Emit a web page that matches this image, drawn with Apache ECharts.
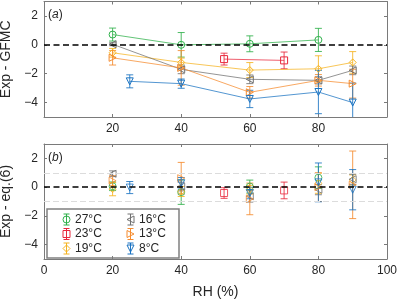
<!DOCTYPE html>
<html><head><meta charset="utf-8">
<script src="https://cdn.jsdelivr.net/npm/echarts@6/dist/echarts.min.js"></script>
<style>html,body{margin:0;padding:0;background:#fff}#c{width:397px;height:300px}</style>
</head><body><div id="c"></div>
<script>
// ---- data ----
const tempLabels = ['27°C', '23°C', '19°C', '16°C', '13°C', '8°C'];
const xTicksTop = [20, 40, 60, 80];
const xTicksBottom = [0, 20, 40, 60, 80, 100];
const yTicks = [-4, -2, 0, 2];

const rh27 = [20, 40, 60, 80];
const gfmc27 = [0.71, 0.0, 0.07, 0.34];
const gfmcErr27 = [0.45, 0.85, 0.55, 0.8];
const eq27 = [0.06, -0.35, 0.04, 0.66];
const eqErr27 = [0.3, 0.85, 0.45, 0.75];

const rh23 = [52.5, 70];
const gfmc23 = [-0.99, -1.08];
const gfmcErr23 = [0.41, 0.58];
const eq23 = [-0.41, -0.23];
const eqErr23 = [0.37, 0.58];

const rh19 = [20, 40, 60, 80, 90];
const gfmc19 = [-0.55, -1.22, -1.75, -1.66, -1.22];
const gfmcErr19 = [0.3, 0.3, 0.52, 0.9, 0.75];
const eq19 = [-0.14, -0.3, -0.18, 0.27, 0.5];
const eqErr19 = [0.46, 0.35, 0.3, 0.7, 0.35];

const rh16 = [20, 40, 60, 80, 90];
const gfmc16 = [0.04, -1.7, -2.39, -2.46, -1.77];
const gfmcErr16 = [0.1, 0.3, 0.3, 0.25, 0.3];
const eq16 = [0.93, 0.04, -0.64, -0.18, 0.55];
const eqErr16 = [0.2, 0.3, 0.4, 0.35, 0.35];

const rh13 = [20, 40, 60, 80, 90];
const gfmc13 = [-0.9, -1.6, -3.29, -2.46, -2.69];
const gfmcErr13 = [0.5, 1.2, 0.4, 0.4, 1.0];
const eq13 = [0.45, 0.62, -0.82, 0.0, 0.16];
const eqErr13 = [0.35, 1.1, 1.1, 1.0, 2.35];

const rh8 = [25, 40, 60, 80, 90];
const gfmc8 = [-2.53, -2.69, -3.75, -3.27, -4.0];
const gfmcErr8 = [0.45, 0.32, 0.6, 1.5, 1.35];
const eq8 = [-0.03, 0.27, -0.41, 0.33, -0.18];
const eqErr8 = [0.42, 0.4, 0.4, 1.35, 1.4];

// ---- styles ----
const colors = ['#2fb04a', '#e8283c', '#f5b320', '#707070', '#f58b2e', '#1a73c2'];
const symbols = ['circle', 'rect', 'diamond',
  'path://M10,0L0,5L10,10Z', 'path://M0,0L10,5L0,10Z', 'path://M0,0L10,0L5,10Z'];
const kinds = ['circle', 'rect', 'diamond', 'left', 'right', 'down'];
const FONT = "'Liberation Sans', Arial, Helvetica, sans-serif";
const axisColor = '#7a7a7a';
const textColor = '#262626';

const groups = [
  [rh27, gfmc27, gfmcErr27, eq27, eqErr27],
  [rh23, gfmc23, gfmcErr23, eq23, eqErr23],
  [rh19, gfmc19, gfmcErr19, eq19, eqErr19],
  [rh16, gfmc16, gfmcErr16, eq16, eqErr16],
  [rh13, gfmc13, gfmcErr13, eq13, eqErr13],
  [rh8, gfmc8, gfmcErr8, eq8, eqErr8]
];

const fmt = v => (v < 0 ? '\u2212' + (-v) : String(v));

function xAx(grid, pos, ticks, showLabels, name) {
  return {
    type: 'value', gridIndex: grid, position: pos, min: 0, max: 100,
    name: name || '', nameLocation: 'middle', nameGap: 26,
    nameTextStyle: { fontFamily: FONT, fontSize: 14, color: textColor },
    axisLine: { show: true, onZero: false, lineStyle: { color: axisColor, width: 1 } },
    axisTick: { show: true, inside: true, length: 3, customValues: ticks, lineStyle: { color: axisColor } },
    axisLabel: { show: showLabels, customValues: ticks, margin: 6, fontFamily: FONT, fontSize: 12, color: textColor },
    splitLine: { show: false }
  };
}
function yAx(grid, pos, showLabels, name) {
  return {
    type: 'value', gridIndex: grid, position: pos, min: -5, max: 3,
    name: name || '', nameLocation: 'middle', nameGap: 22, nameRotate: 90,
    nameTextStyle: { fontFamily: FONT, fontSize: 14, color: textColor },
    axisLine: { show: true, onZero: false, lineStyle: { color: axisColor, width: 1 } },
    axisTick: { show: true, inside: true, length: 3, customValues: yTicks, lineStyle: { color: axisColor } },
    axisLabel: { show: showLabels, customValues: yTicks, margin: 6, formatter: fmt, fontFamily: FONT, fontSize: 12, color: textColor },
    splitLine: { show: false }
  };
}

function errSeries(name, xs, ys, es, color, axIdx) {
  return {
    type: 'custom', name: name, xAxisIndex: axIdx, yAxisIndex: axIdx, clip: true, silent: true, z: 3,
    data: xs.map((x, i) => [x, ys[i], es[i]]),
    encode: { x: 0, y: 1 },
    renderItem: function (params, api) {
      const x = api.value(0), y = api.value(1), e = api.value(2);
      const t = api.coord([x, y + e]);
      const b = api.coord([x, y - e]);
      const w = 3.5;
      const st = { stroke: color, lineWidth: 1, opacity: 0.85 };
      return {
        type: 'group', children: [
          { type: 'line', shape: { x1: t[0], y1: t[1], x2: b[0], y2: b[1] }, style: st },
          { type: 'line', shape: { x1: t[0] - w, y1: t[1], x2: t[0] + w, y2: t[1] }, style: st },
          { type: 'line', shape: { x1: b[0] - w, y1: b[1], x2: b[0] + w, y2: b[1] }, style: st }
        ]
      };
    }
  };
}

const series = [];
groups.forEach((g, k) => {
  const [rh, gf, gfe, eq, eqe] = g;
  const c = colors[k];
  const top = {
    type: 'line', name: tempLabels[k], xAxisIndex: 0, yAxisIndex: 0, z: 4,
    data: rh.map((x, i) => [x, gf[i]]),
    symbol: symbols[k], symbolSize: 7,
    itemStyle: { color: 'none', borderColor: c, borderWidth: 1 },
    lineStyle: { color: c, width: 1, opacity: 0.75 },
    silent: true, animation: false
  };
  const bot = {
    type: 'scatter', name: tempLabels[k], xAxisIndex: 2, yAxisIndex: 2, z: 4,
    data: rh.map((x, i) => [x, eq[i]]),
    symbol: symbols[k], symbolSize: 7,
    itemStyle: { color: 'none', borderColor: c, borderWidth: 1 },
    silent: true, animation: false
  };
  if (k === 0) {
    top.markLine = {
      silent: true, symbol: ['none', 'none'], label: { show: false }, animation: false,
      lineStyle: { color: '#000', type: [6, 3.5], width: 1.6 },
      data: [{ yAxis: 0 }]
    };
    bot.markLine = {
      silent: true, symbol: ['none', 'none'], label: { show: false }, animation: false,
      data: [
        { yAxis: 1, lineStyle: { color: '#dcdcdc', type: [6, 3], width: 1 } },
        { yAxis: -1, lineStyle: { color: '#dcdcdc', type: [6, 3], width: 1 } },
        { yAxis: 0, lineStyle: { color: '#000', type: [6, 3.5], width: 1.6 } }
      ]
    };
  }
  series.push(top, bot);
  series.push(errSeries(tempLabels[k], rh, gf, gfe, c, 0));
  series.push(errSeries(tempLabels[k], rh, eq, eqe, c, 2));
});

// ---- legend drawn as graphic ----
function markerEl(kind, cx, cy, c) {
  const s = 3.5;
  const st = { fill: 'none', stroke: c, lineWidth: 1 };
  if (kind === 'circle') return { type: 'circle', shape: { cx: cx, cy: cy, r: s }, style: st };
  if (kind === 'rect') return { type: 'rect', shape: { x: cx - s, y: cy - s, width: 2 * s, height: 2 * s }, style: st };
  let pts;
  if (kind === 'diamond') pts = [[cx, cy - s], [cx + s, cy], [cx, cy + s], [cx - s, cy]];
  if (kind === 'left') pts = [[cx + s, cy - s], [cx - s, cy], [cx + s, cy + s]];
  if (kind === 'right') pts = [[cx - s, cy - s], [cx + s, cy], [cx - s, cy + s]];
  if (kind === 'down') pts = [[cx - s, cy - s], [cx + s, cy - s], [cx, cy + s]];
  return { type: 'polygon', shape: { points: pts }, style: st };
}
const legendChildren = [{
  type: 'rect', shape: { x: 47, y: 209, width: 132, height: 49 },
  style: { fill: '#fff', stroke: '#808080', lineWidth: 1.5 }
}];
tempLabels.forEach((lab, i) => {
  const col = Math.floor(i / 3), row = i % 3;
  const cx = 66.5 + col * 64, cy = 219.5 + row * 14.5;
  const c = colors[i];
  const est = { stroke: c, lineWidth: 1 };
  legendChildren.push(
    { type: 'line', shape: { x1: cx, y1: cy - 5.5, x2: cx, y2: cy + 5.5 }, style: est },
    { type: 'line', shape: { x1: cx - 3, y1: cy - 5.5, x2: cx + 3, y2: cy - 5.5 }, style: est },
    { type: 'line', shape: { x1: cx - 3, y1: cy + 5.5, x2: cx + 3, y2: cy + 5.5 }, style: est },
    markerEl(kinds[i], cx, cy, c),
    { type: 'text', x: cx + 8.5, y: cy, style: { text: lab, fontFamily: FONT, fontSize: 12, fill: textColor, textVerticalAlign: 'middle', verticalAlign: 'middle' } }
  );
});

const option = {
  animation: false,
  textStyle: { fontFamily: FONT },
  grid: [
    { left: 44, right: 10, top: 1.5, height: 115.5, containLabel: false, outerBoundsMode: 'none' },
    { left: 44, right: 10, top: 144, height: 115, containLabel: false, outerBoundsMode: 'none' }
  ],
  xAxis: [
    xAx(0, 'bottom', xTicksTop, true),
    xAx(0, 'top', xTicksTop, false),
    xAx(1, 'bottom', xTicksBottom, true, 'RH (%)'),
    xAx(1, 'top', xTicksBottom, false)
  ],
  yAxis: [
    yAx(0, 'left', true, 'Exp - GFMC'),
    yAx(0, 'right', false),
    yAx(1, 'left', true, 'Exp - eq.(6)'),
    yAx(1, 'right', false)
  ],
  series: series,
  graphic: [
    { type: 'group', z: 100, children: legendChildren },
    { type: 'text', z: 100, x: 48, y: 15, style: { text: '({i|a})', rich: { i: { fontStyle: 'italic', fontSize: 12, fontFamily: FONT, fill: textColor } }, fontFamily: FONT, fontSize: 12, fill: textColor, verticalAlign: 'middle' } },
    { type: 'text', z: 100, x: 48, y: 158, style: { text: '({i|b})', rich: { i: { fontStyle: 'italic', fontSize: 12, fontFamily: FONT, fill: textColor } }, fontFamily: FONT, fontSize: 12, fill: textColor, verticalAlign: 'middle' } }
  ]
};
const chart = echarts.init(document.getElementById('c'), null, { renderer: 'canvas' });
chart.setOption(option);
</script>
</body></html>
